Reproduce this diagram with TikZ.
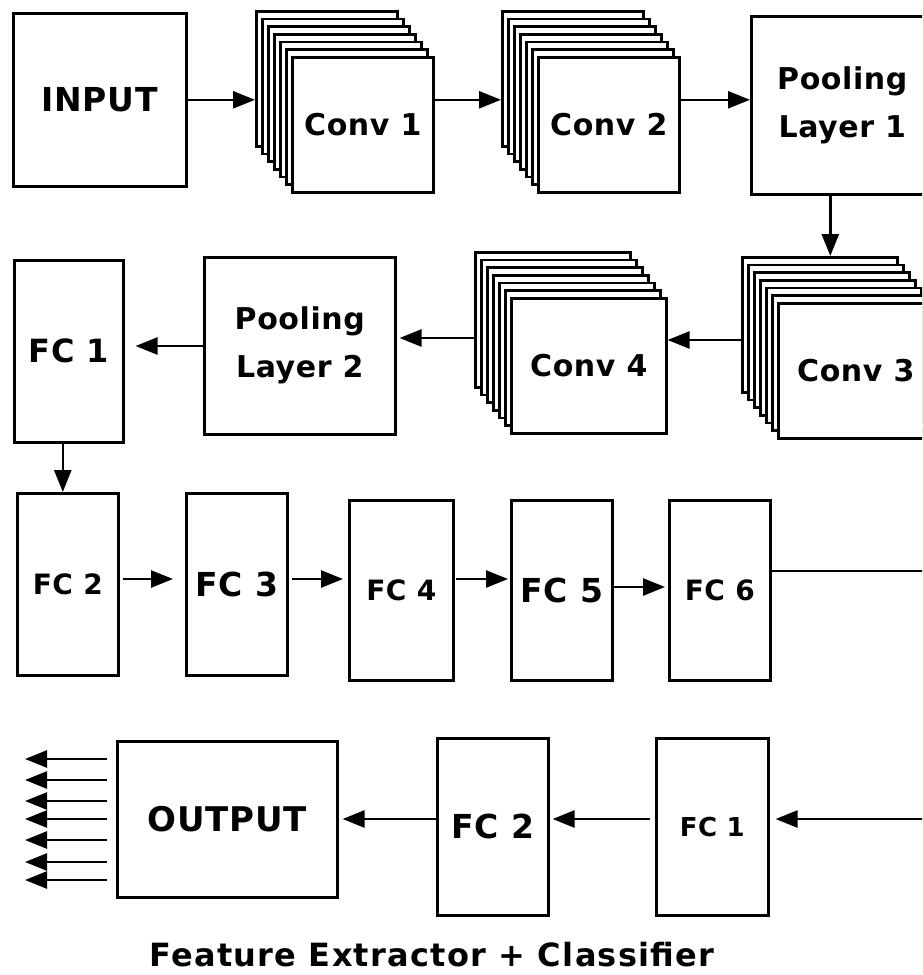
\documentclass[tikz,border=0pt]{standalone}
\usepackage{fontspec}
\setmainfont{DejaVu Sans}[LetterSpace=2]
\usetikzlibrary{arrows.meta}
\begin{document}
\begin{tikzpicture}[x=1pt,y=-1pt,
  box/.style={draw,line width=2.6pt,fill=white,inner sep=0pt,align=center,anchor=north west},
  arr/.style={line width=2.6pt,-{Triangle[length=22pt,width=17pt]}},
  ln/.style={line width=2.6pt},
  fbig/.style={font=\bfseries\fontsize{30}{48}\selectfont},
  fs/.style={font=\bfseries\fontsize{#1}{#1}\selectfont},
  convA/.style={box,minimum width=141pt,minimum height=135pt},
  convB/.style={box,minimum width=155pt,minimum height=135pt}
]
\clip (0,0) rectangle (922,975);
\useasboundingbox (0,0) rectangle (922,975);

% Row 1
\node[box,fs=33,minimum width=173pt,minimum height=173pt] (in) at (12,12) {INPUT};

\node[convA] (c1b) at (255,10) {};
\foreach \k in {1,...,5} \node[convA] at ({255+6*\k},{10+7.67*\k}) {};
\node[convA,fbig] (c1) at (291,56) {Conv 1};

\node[convA] (c2b) at (501,10) {};
\foreach \k in {1,...,5} \node[convA] at ({501+6*\k},{10+7.67*\k}) {};
\node[convA,fbig] (c2) at (537,56) {Conv 2};

\node[box,fbig,minimum width=182pt,minimum height=178pt] (p1) at (750,15) {Pooling\\Layer 1};

% Row 2
\node[convB] (c3b) at (741,256) {};
\foreach \k in {1,...,5} \node[convB] at ({741+6*\k},{256+7.67*\k}) {};
\node[convB,fbig] (c3) at (777,302) {Conv 3};

\node[convB] (c4b) at (474,251) {};
\foreach \k in {1,...,5} \node[convB] at ({474+6*\k},{251+7.67*\k}) {};
\node[convB,fbig] (c4) at (510,297) {Conv 4};

\node[box,fbig,minimum width=191pt,minimum height=177pt] (p2) at (203,256) {Pooling\\Layer 2};
\node[box,fs=32,minimum width=109pt,minimum height=182pt] (f1) at (13,259) {FC 1};

% Row 3
\node[box,fs=28,minimum width=101pt,minimum height=182pt] (g2) at (16,492) {FC 2};
\node[box,fs=33,minimum width=101pt,minimum height=182pt] (g3) at (185,492) {FC 3};
\node[box,fs=28,minimum width=104pt,minimum height=180pt] (g4) at (348,499) {FC 4};
\node[box,fs=33,minimum width=101pt,minimum height=180pt] (g5) at (510,499) {FC 5};
\node[box,fs=28,minimum width=101pt,minimum height=180pt] (g6) at (668,499) {FC 6};

% Row 4
\node[box,fs=34,minimum width=220pt,minimum height=156pt] (out) at (116,740) {OUTPUT};
\node[box,fs=33,minimum width=111pt,minimum height=177pt] (h2) at (436,737) {FC 2};
\node[box,fs=26,minimum width=112pt,minimum height=177pt] (h1) at (655,737) {FC 1};

\node[font=\bfseries\fontsize{32}{36}\selectfont\addfontfeatures{LetterSpace=4}] (cap) at (432,955) {Feature Extractor + Classifier};

% helper coordinates
\coordinate (yr2a) at (0,340);
\coordinate (yr2b) at (0,338);
\coordinate (yr2c) at (0,346);
\coordinate (yr3) at (0,579);
\coordinate (yr3b) at (0,587);
\coordinate (e1) at (930,571);
\coordinate (e2) at (930,819);
\coordinate (yr4) at (0,819);

% Row 1 connectors
\draw[arr] (in.east) -- (in.east -| c1b.west);
\draw[arr] (c1.east |- in.east) -- (c2b.west |- in.east);
\draw[arr] (c2.east |- in.east) -- (p1.west |- in.east);
\draw[arr] ([xshift=-12pt]p1.south) -- ([xshift=-12pt]p1.south |- c3b.north);

% Row 2 connectors
\draw[arr] (c3b.west |- yr2a) -- (c4.east |- yr2a);
\draw[arr,shorten >=3pt] (c4b.west |- yr2b) -- (p2.east |- yr2b);
\draw[arr,shorten >=11pt] (p2.west |- yr2c) -- (f1.east |- yr2c);
\draw[arr] ([xshift=-6pt]f1.south) -- ([xshift=-6pt]f1.south |- g2.north);

% Row 3 connectors
\draw[arr,shorten <=3pt,shorten >=12pt] (g2.east |- yr3) -- (g3.west |- yr3);
\draw[arr,shorten <=3pt,shorten >=5pt] (g3.east |- yr3) -- (g4.west |- yr3);
\draw[arr,shorten <=1pt,shorten >=2pt] (g4.east |- yr3) -- (g5.west |- yr3);
\draw[arr,shorten >=3pt] (g5.east |- yr3b) -- (g6.west |- yr3b);
\draw[ln] (g6.east |- e1) -- (e1);

% Row 4 connectors
\draw[arr,shorten >=6pt] (e2) -- (h1.east |- e2);
\draw[arr,shorten <=5pt,shorten >=3pt] (h1.west |- yr4) -- (h2.east |- yr4);
\draw[arr,shorten >=4pt] (h2.west |- yr4) -- (out.east |- yr4);
\foreach \yy in {759,780,801,819,840,862,880}
  \draw[arr] ([xshift=-9pt]out.west |- 0,\yy) -- ([xshift=-91pt]out.west |- 0,\yy);
\end{tikzpicture}
\end{document}
